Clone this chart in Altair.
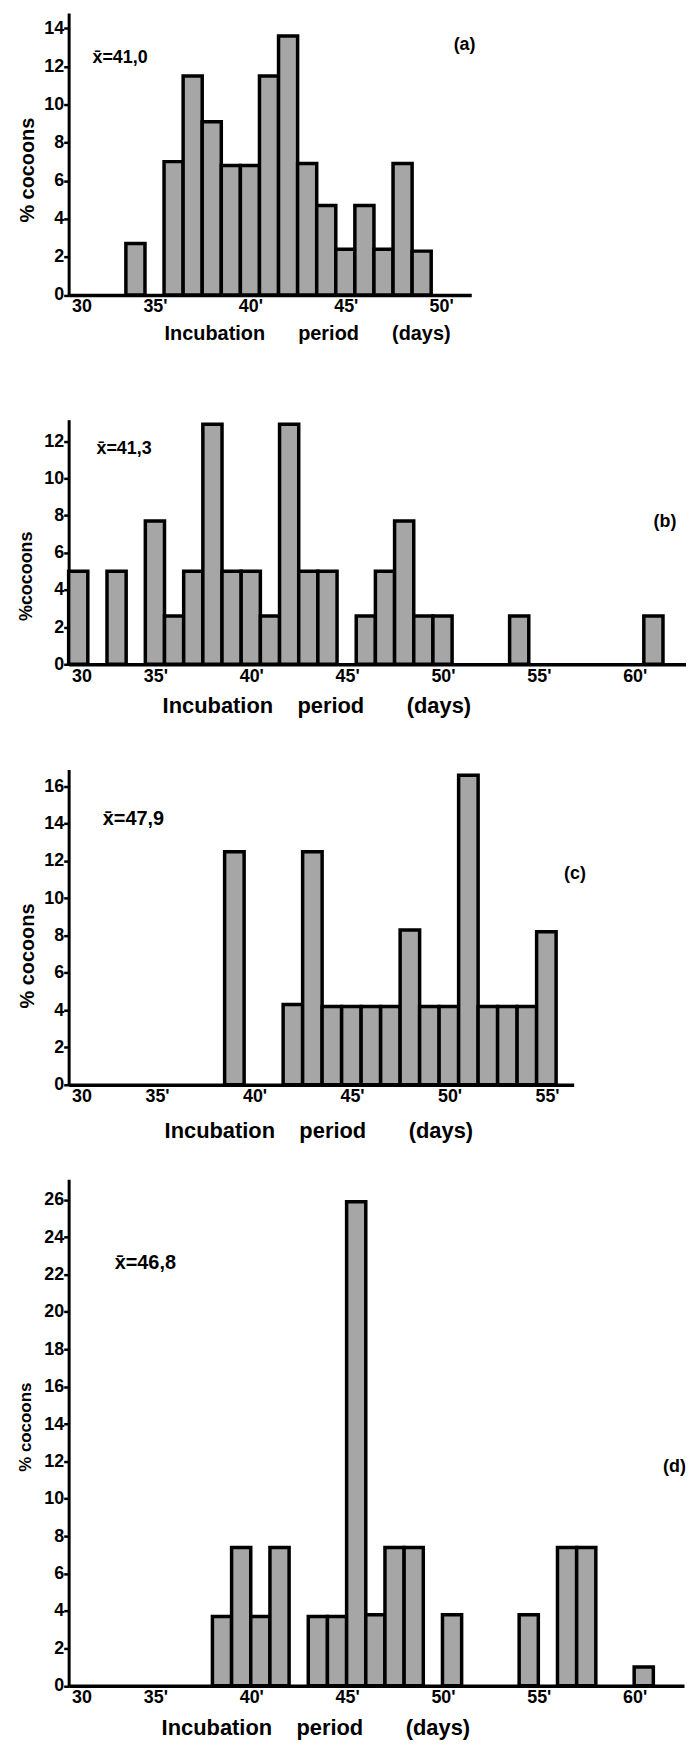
import altair as alt
import pandas as pd

# ---------------- data ----------------
# (a) bins [day, day+1)
A_DAYS = [33, 35, 36, 37, 38, 39, 40, 41, 42, 43, 44, 45, 46, 47, 48]
A_PCT = [2.7, 7.0, 11.5, 9.1, 6.8, 6.8, 11.5, 13.6, 6.9, 4.7, 2.4, 4.7, 2.4, 6.9, 2.3]

# (b) bins [day, day+1)
B_DAYS = [30, 32, 34, 35, 36, 37, 38, 39, 40, 41, 42, 43, 45, 46, 47, 48, 49, 53, 60]
B_PCT = [5.0, 5.0, 7.7, 2.6, 5.0, 12.9, 5.0, 5.0, 2.6, 12.9, 5.0, 5.0, 2.6, 5.0, 7.7, 2.6, 2.6, 2.6, 2.6]

# (c) bins [day, day+1)
C_DAYS = [38, 41, 42, 43, 44, 45, 46, 47, 48, 49, 50, 51, 52, 53, 54]
C_PCT = [12.5, 4.3, 12.5, 4.2, 4.2, 4.2, 4.2, 8.3, 4.2, 4.2, 16.6, 4.2, 4.2, 4.2, 8.2]

# (d) bins centred on the day
D_DAYS = [38, 39, 40, 41, 43, 44, 45, 46, 47, 48, 50, 54, 56, 57, 60]
D_PCT = [3.7, 7.4, 3.7, 7.4, 3.7, 3.7, 25.9, 3.8, 7.4, 7.4, 3.8, 3.8, 7.4, 7.4, 1.0]

MEANS = ["x\u0304=41,0", "x\u0304=41,3", "x\u0304=47,9", "x\u0304=46,8"]
TAGS = ["(a)", "(b)", "(c)", "(d)"]
Y_TITLES = ["% cocoons", "%cocoons", "% cocoons", "% cocoons"]

NB = "\u00a0"
X_TITLE_A = "Incubation" + NB * 6 + "period" + NB * 6 + "(days)"
X_TITLE = "Incubation" + NB * 4 + "period" + NB * 7 + "(days)"

FONT = "Liberation Sans"
FILL = "#a6a6a6"
LABEL_EXPR = "datum.value == 30 ? '30' : datum.label + \"'\""
LABEL_ALIGN = {"condition": {"test": "datum.value == 30", "value": "left"}, "value": "right"}


def panel(days, pct, lo, hi, xmax, ymax, yticks, xticks, width, height,
          ytitle, ytitle_size, ytitle_y, xtitle, xtitle_size, xtitle_x, xtitle_y,
          mean_txt, mean_size, mean_x, mean_y, tag, tag_x, tag_y, spacer=None):
    df = pd.DataFrame({"day": days, "pct": pct})
    df["x0"] = df["day"] + lo
    df["x1"] = df["day"] + hi

    xscale = alt.Scale(domain=[30, xmax], nice=False, zero=False)
    yscale = alt.Scale(domain=[0, ymax], nice=False)

    xaxis = alt.Axis(
        values=xticks, format="d", title=xtitle, titleFont=FONT, titleFontSize=xtitle_size,
        titleFontWeight="bold", titleAlign="left", titleBaseline="middle",
        titleX=xtitle_x, titleY=xtitle_y, titleColor="black",
        labelExpr=LABEL_EXPR, labelAlign=LABEL_ALIGN, labelFlush=False, labelOffset=3,
        labelOverlap=False, labelBound=False,
        labelFont=FONT, labelFontSize=18, labelFontWeight="bold", labelColor="black",
        labelPadding=3, labelBaseline="top", ticks=False, grid=False,
        domainColor="black", domainWidth=3.5,
    )
    yaxis = alt.Axis(
        values=yticks, format="d", title=ytitle, titleFont=FONT, titleFontSize=ytitle_size,
        titleFontWeight="bold", titleColor="black", titleY=ytitle_y,
        titlePadding=26 - ytitle_size,
        labelOverlap=False, labelBound=False,
        labelFont=FONT, labelFontSize=18, labelFontWeight="bold", labelColor="black",
        labelPadding=0, tickSize=5, tickWidth=2.5, tickColor="black", grid=False,
        domainColor="black", domainWidth=3,
    )
    X = alt.X("x0:Q", scale=xscale, axis=xaxis)
    Y = alt.Y("pct:Q", scale=yscale, axis=yaxis)

    bars = alt.Chart(df).mark_rect(fill=FILL, stroke="black", strokeWidth=3.5).encode(
        x=X, x2="x1:Q", y=Y, y2=alt.datum(0),
    )

    mean_df = pd.DataFrame({"x0": [mean_x], "pct": [mean_y], "label": [mean_txt]})
    mean_layer = alt.Chart(mean_df).mark_text(
        align="left", baseline="middle", font=FONT, fontSize=mean_size, fontWeight="bold", color="black"
    ).encode(x=X, y=Y, text="label:N")

    tag_df = pd.DataFrame({"x0": [tag_x], "pct": [tag_y], "label": [tag]})
    tag_layer = alt.Chart(tag_df).mark_text(
        align="center", baseline="middle", font=FONT, fontSize=18, fontWeight="bold", color="black"
    ).encode(x=X, y=Y, text="label:N")

    layers = [bars, mean_layer, tag_layer]
    if spacer is not None:
        sp = alt.Chart(pd.DataFrame({"s": [0]})).mark_text(
            text=".", opacity=0, fontSize=2, baseline="top"
        ).encode(x=alt.value(0), y=alt.value(spacer))
        layers.append(sp)

    return alt.layer(*layers).properties(width=width, height=height)


pa = panel(A_DAYS, A_PCT, 0, 1, 51.1, 14.8, list(range(0, 15, 2)), [30, 35, 40, 45, 50],
           405, 283.5, Y_TITLES[0], 20, 157.5, X_TITLE_A, 20, 96, 39,
           MEANS[0], 18, 31.25, 12.45, TAGS[0], 50.75, 13.1, spacer=407)
pb = panel(B_DAYS, B_PCT, 0, 1, 62.2, 13.15, list(range(0, 13, 2)), [30, 35, 40, 45, 50, 55, 60],
           621, 246, Y_TITLES[1], 18, 157, X_TITLE, 22, 94, 42,
           MEANS[1], 18, 31.45, 11.55, TAGS[1], 61.1, 7.65, spacer=349.5)
pc = panel(C_DAYS, C_PCT, 0, 1, 55.9, 16.9, list(range(0, 17, 2)), [30, 35, 40, 45, 50, 55],
           508, 317, Y_TITLES[2], 20, 187, X_TITLE, 22, 96, 46,
           MEANS[2], 20, 31.75, 14.25, TAGS[2], 55.97, 11.3, spacer=410)
pd_ = panel(D_DAYS, D_PCT, -0.5, 0.5, 62.1, 27.1, list(range(0, 27, 2)), [30, 35, 40, 45, 50, 55, 60],
            619, 509.5, Y_TITLES[3], 17, 249, X_TITLE, 22, 93, 42,
            MEANS[3], 20, 32.4, 22.6, TAGS[3], 61.6, 11.7)

chart = alt.vconcat(pa, pb, pc, pd_, spacing=0).properties(
    padding={"left": 8, "top": 0, "right": 0, "bottom": 0},
    background="white",
).configure_view(stroke=None).configure_axis(labelOverlap=False)

chart.save("out.html", embed_options={"renderer": "svg", "actions": False})
